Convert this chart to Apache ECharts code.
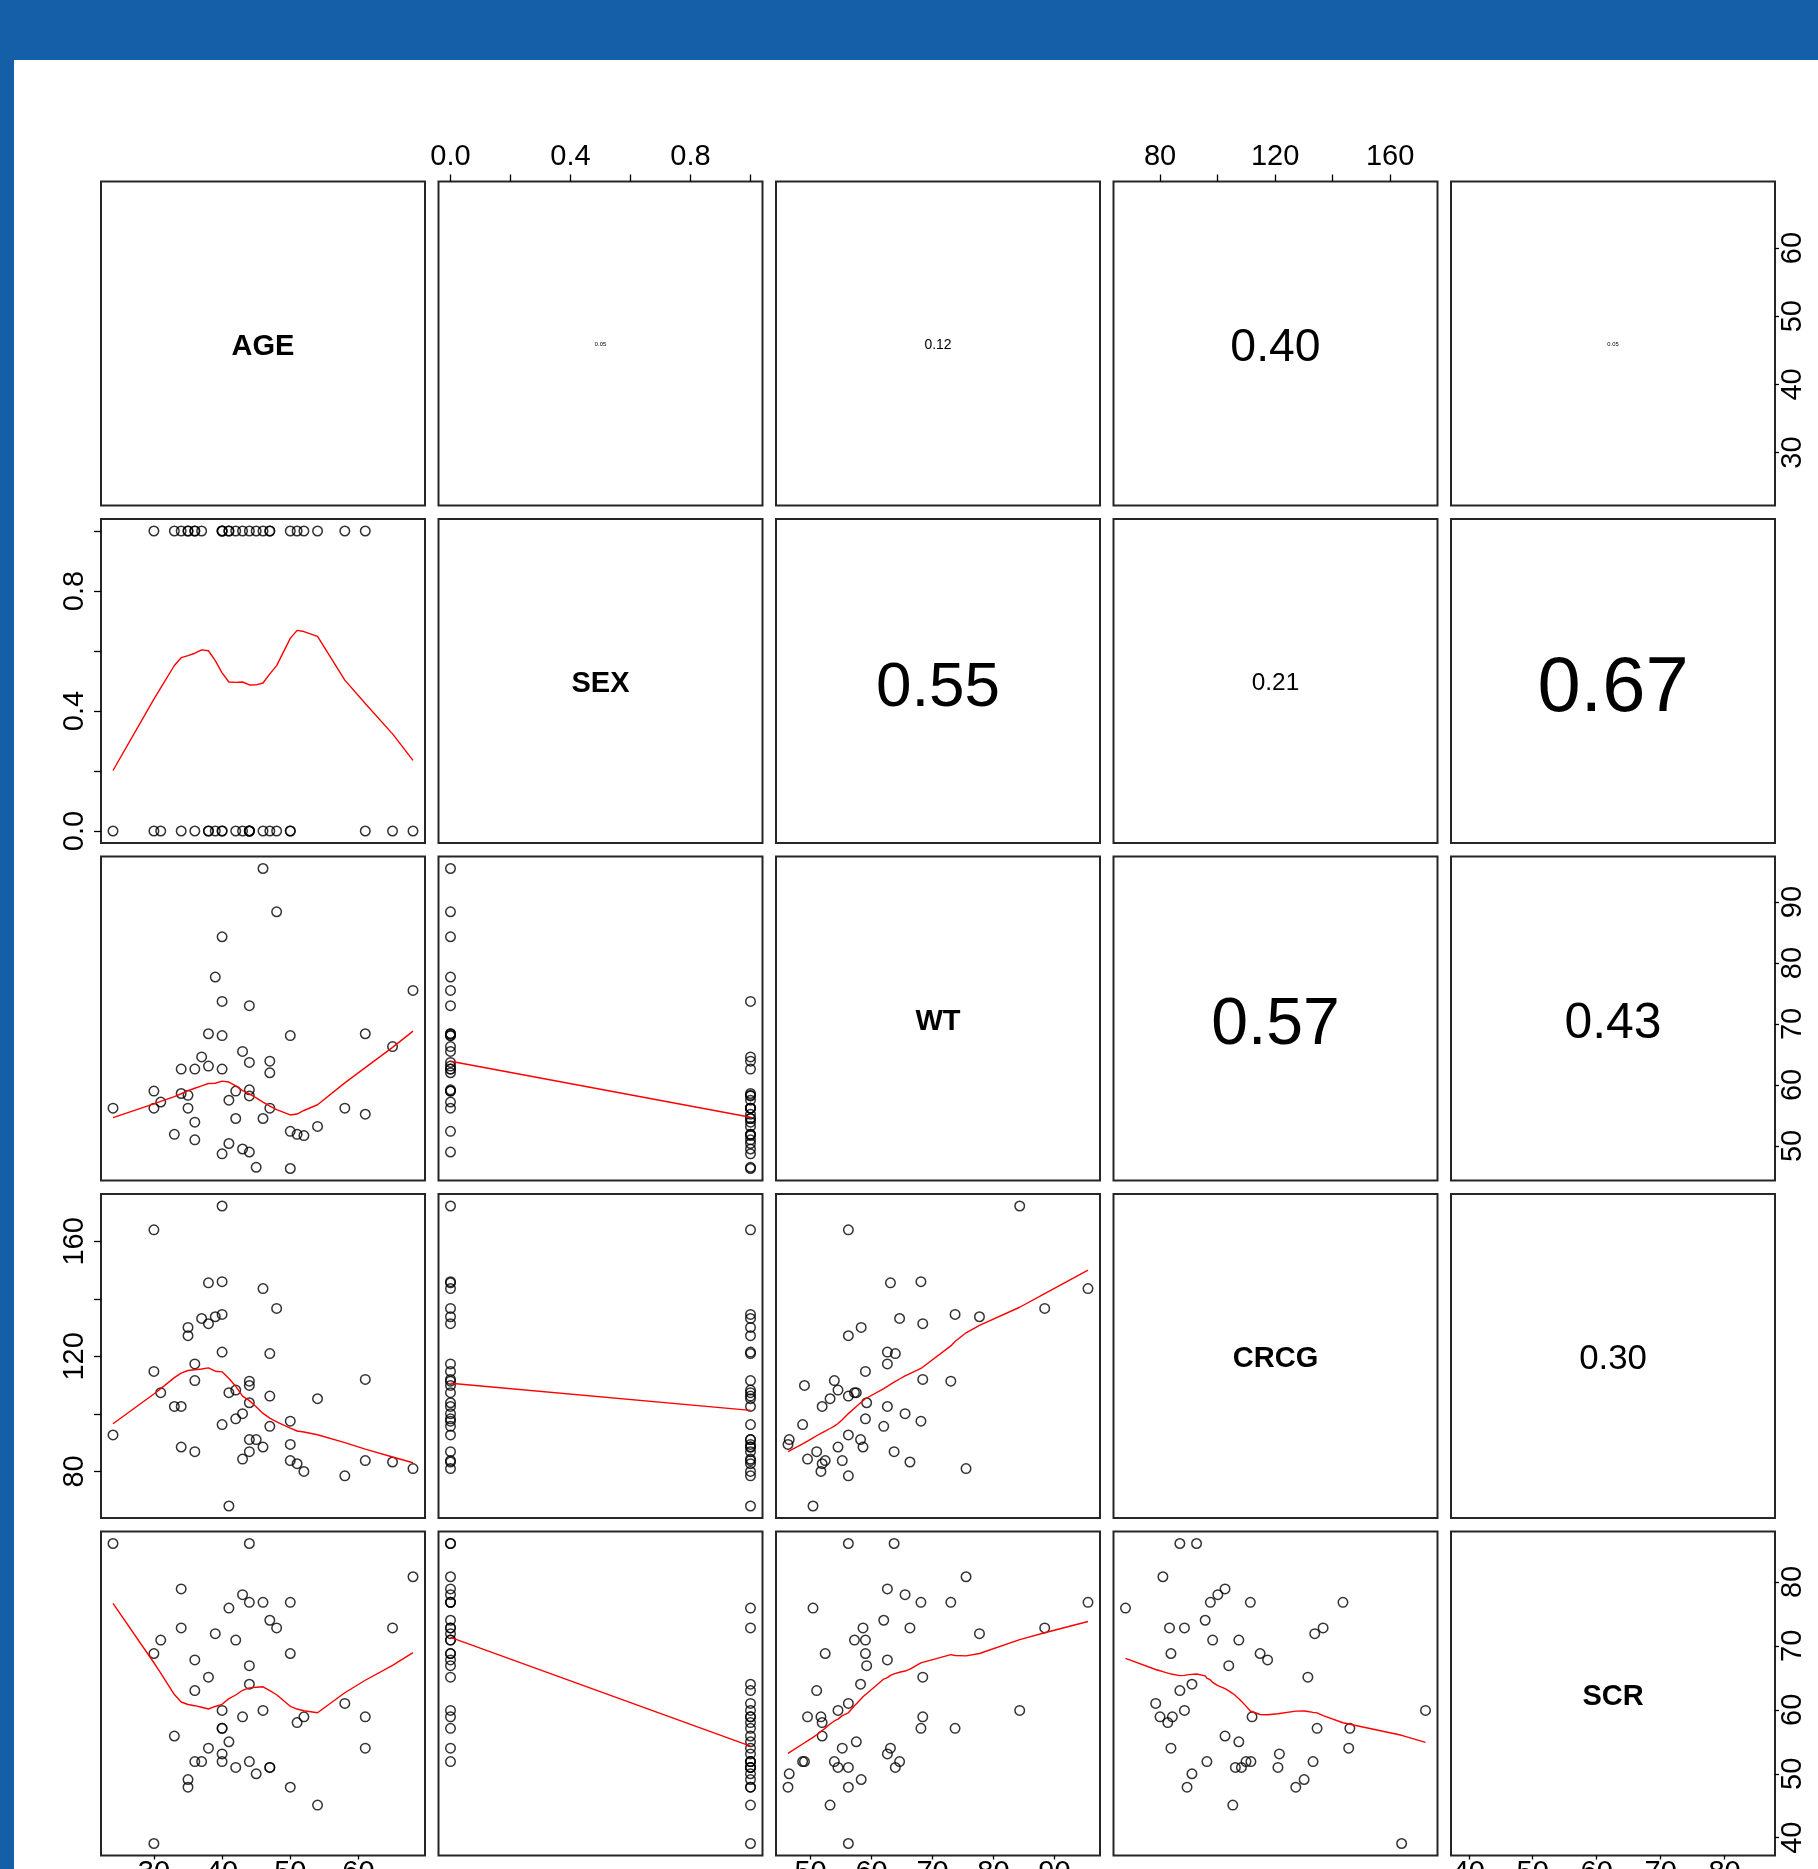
<!DOCTYPE html>
<html>
<head>
<meta charset="utf-8">
<script src="https://cdn.jsdelivr.net/npm/echarts@6.0.0/dist/echarts.min.js"></script>
<style>
html, body { margin: 0; padding: 0; background: #ffffff; overflow: hidden; }
#chart { width: 1818px; height: 1869px; }
</style>
</head>
<body>
<div id="chart"></div>
<script>
// ---------------- data ----------------
const VAR_NAMES = ['AGE', 'SEX', 'WT', 'CRCG', 'SCR'];

const AGE = [24,30,30,31,33,34,34,35,35,36,36,36,37,38,38,39,40,40,40,40,40,41,41,42,42,43,43,44,44,44,44,44,45,46,46,47,47,47,48,50,50,50,51,52,54,58,61,61,65,68];
const SEX = [0,1,0,0,1,0,1,1,1,0,1,1,1,0,0,0,0,0,1,1,1,1,1,1,0,0,1,0,0,0,1,0,1,0,1,1,0,1,0,0,0,1,1,1,1,1,0,1,0,0];
const WT = [56.2,56.2,59.0,57.2,51.9,62.6,58.6,58.3,56.2,62.6,51.0,53.9,64.6,63.1,68.4,77.7,84.3,68.1,73.7,62.6,48.7,57.5,50.4,54.5,59.0,65.5,49.5,63.7,73.0,59.2,58.2,49.0,46.5,95.5,54.5,63.9,62.0,56.2,88.4,68.1,52.4,46.3,51.9,51.7,53.2,56.2,68.4,55.2,66.3,75.5];
const CRCG = [92.7,164.0,114.8,107.4,102.6,102.6,88.5,130.1,127.2,117.4,86.9,111.6,133.2,145.6,131.4,133.8,172.3,146.0,134.6,121.5,96.3,107.4,68.0,108.3,98.3,100.1,84.3,86.9,111.4,103.9,91.1,109.9,91.1,143.6,88.5,121.0,95.7,106.2,136.7,97.5,83.8,89.4,82.7,80.0,105.3,78.5,112.0,83.8,83.3,81.0];
const SCR = [86.0,39.1,68.8,70.9,55.9,78.9,72.8,49.1,47.9,67.8,63.0,51.9,51.9,54.0,65.1,71.9,59.9,57.1,57.1,53.1,51.9,55.0,75.9,51.0,70.9,78.0,58.9,86.0,76.8,66.9,64.0,51.9,50.0,76.8,59.9,51.0,74.0,51.0,72.8,76.8,68.8,47.9,58.0,58.9,45.1,61.0,58.9,54.0,72.8,80.8];

// tick marks and tick labels
const AGE_TICKS = [30, 40, 50, 60];
const AGE_LABELS = [30, 40, 50, 60];
const SEX_TICKS = [0, 0.2, 0.4, 0.6, 0.8, 1.0];
const SEX_LABELS = [0, 0.4, 0.8];
const WT_TICKS = [50, 60, 70, 80, 90];
const WT_LABELS = [50, 60, 70, 80, 90];
const CRCG_TICKS = [80, 100, 120, 140, 160];
const CRCG_LABELS = [80, 120, 160];
const SCR_TICKS = [40, 50, 60, 70, 80];
const SCR_LABELS = [40, 50, 60, 70, 80];

// correlation texts of the upper panels (row, column, text)
const COR_ROW = [0, 0, 0, 0, 1, 1, 1, 2, 2, 3];
const COR_COL = [1, 2, 3, 4, 2, 3, 4, 3, 4, 4];
const COR_TEXT = ['0.05', '0.12', '0.40', '0.05', '0.55', '0.21', '0.67', '0.57', '0.43', '0.30'];

// ---------------- layout / style ----------------
const VALUES = [AGE, SEX, WT, CRCG, SCR];
const TICKS = [AGE_TICKS, SEX_TICKS, WT_TICKS, CRCG_TICKS, SCR_TICKS];
const LABELS = [AGE_LABELS, SEX_LABELS, WT_LABELS, CRCG_LABELS, SCR_LABELS];
const DIGITS = [0, 1, 0, 0, 0];
const FONT = '"Liberation Sans", Arial, Helvetica, sans-serif';
const P0X = 101, P0Y = 181.5, STEP = 337.5, SIZE = 324;
const COR_K = 116;
const BLUE = '#155fa8';

function extent(v) {
  let lo = Math.min(...v), hi = Math.max(...v);
  const d = 0.04 * (hi - lo);
  return [lo - d, hi + d];
}

// R's lowess (clowess), f = 2/3, iter = 3
function lowess(xIn, yIn, f, nsteps) {
  const n = xIn.length;
  const idx = xIn.map((_, i) => i).sort((a, b) => (xIn[a] - xIn[b]) || (a - b));
  const x = idx.map(i => xIn[i]), y = idx.map(i => yIn[i]);
  const ys = new Array(n).fill(0), rw = new Array(n).fill(1), res = new Array(n).fill(0);
  const range = x[n - 1] - x[0];
  const delta = 0.01 * range;
  const ns = Math.max(2, Math.min(n, Math.floor(f * n + 1e-7)));
  function lowest(xs, nleft, nright, userw) {
    const h = Math.max(xs - x[nleft], x[nright] - xs);
    const h9 = 0.999 * h, h1 = 0.001 * h;
    let a = 0, j = nleft;
    while (j < n) {
      res[j] = 0;
      const r = Math.abs(x[j] - xs);
      if (r <= h9) {
        if (r <= h1) res[j] = 1; else res[j] = Math.pow(1 - Math.pow(r / h, 3), 3);
        if (userw) res[j] *= rw[j];
        a += res[j];
      } else if (x[j] > xs) break;
      j++;
    }
    const nrt = j - 1;
    if (a <= 0) return null;
    for (j = nleft; j <= nrt; j++) res[j] /= a;
    if (h > 0) {
      a = 0;
      for (j = nleft; j <= nrt; j++) a += res[j] * x[j];
      let b = xs - a, c = 0;
      for (j = nleft; j <= nrt; j++) c += res[j] * (x[j] - a) * (x[j] - a);
      if (Math.sqrt(c) > 0.001 * range) {
        b /= c;
        for (j = nleft; j <= nrt; j++) res[j] *= (b * (x[j] - a) + 1);
      }
    }
    let s = 0;
    for (j = nleft; j <= nrt; j++) s += res[j] * y[j];
    return s;
  }
  for (let it = 1; it <= nsteps + 1; it++) {
    let nleft = 0, nright = ns - 1, last = -1, i = 0;
    do {
      if (nright < n - 1) {
        const d1 = x[i] - x[nleft], d2 = x[nright + 1] - x[i];
        if (d1 > d2) { nleft++; nright++; continue; }
      }
      const v = lowest(x[i], nleft, nright, it > 1);
      ys[i] = (v === null) ? y[i] : v;
      if (last < i - 1) {
        const denom = x[i] - x[last];
        for (let j = last + 1; j < i; j++) {
          const alpha = (x[j] - x[last]) / denom;
          ys[j] = alpha * ys[i] + (1 - alpha) * ys[last];
        }
      }
      last = i;
      const cut = x[last] + delta;
      for (i = last + 1; i < n; i++) {
        if (x[i] > cut) break;
        if (x[i] === x[last]) { ys[i] = ys[last]; last = i; }
      }
      i = Math.max(last + 1, i - 1);
    } while (last < n - 1);
    for (let k = 0; k < n; k++) res[k] = y[k] - ys[k];
    let sc = 0;
    for (let k = 0; k < n; k++) sc += Math.abs(res[k]);
    sc /= n;
    if (it > nsteps) break;
    for (let k = 0; k < n; k++) rw[k] = Math.abs(res[k]);
    const sorted = rw.slice().sort((a, b) => a - b);
    const m1 = Math.floor(n / 2);
    let cmad;
    if (n % 2 === 0) { const m2 = n - m1 - 1; cmad = 3 * (sorted[m1] + sorted[m2]); }
    else cmad = 6 * sorted[m1];
    if (cmad < 1e-7 * sc) break;
    const c9 = 0.999 * cmad, c1 = 0.001 * cmad;
    for (let k = 0; k < n; k++) {
      const r = Math.abs(res[k]);
      if (r <= c1) rw[k] = 1;
      else if (r <= c9) rw[k] = Math.pow(1 - Math.pow(r / cmad, 2), 2);
      else rw[k] = 0;
    }
  }
  return x.map((xv, k) => [xv, ys[k]]);
}

function axisCfg(kind, v, gi, pos) {
  const [mn, mx] = extent(VALUES[v]);
  const show = pos !== null;
  const near = (pos === 'top' || pos === 'left');
  let margin = 3;
  if (pos === 'top') margin = 10;
  if (pos === 'left') margin = 12;
  return {
    type: 'value',
    gridIndex: gi,
    min: mn,
    max: mx,
    position: pos || (kind === 'x' ? 'bottom' : 'left'),
    axisLine: { show: false, onZero: false },
    splitLine: { show: false },
    axisPointer: { show: false },
    axisTick: {
      show: show,
      customValues: TICKS[v],
      length: near ? 7 : 4,
      lineStyle: { color: '#000', width: 1.3 }
    },
    axisLabel: {
      show: show,
      customValues: LABELS[v],
      margin: margin,
      rotate: kind === 'y' ? 90 : 0,
      color: '#000',
      fontSize: 29,
      fontFamily: FONT,
      hideOverlap: false,
      formatter: (val) => Number(val).toFixed(DIGITS[v])
    }
  };
}

const grids = [], xAxes = [], yAxes = [], series = [], graphics = [];

graphics.push({ type: 'rect', shape: { x: 0, y: 0, width: 1818, height: 60 }, style: { fill: BLUE }, z: 10 });
graphics.push({ type: 'rect', shape: { x: 0, y: 0, width: 14, height: 1869 }, style: { fill: BLUE }, z: 10 });

for (let r = 0; r < 5; r++) {
  for (let c = 0; c < 5; c++) {
    const gi = r * 5 + c;
    const left = P0X + STEP * c, top = P0Y + STEP * r;
    grids.push({
      left: left, top: top, width: SIZE, height: SIZE,
      containLabel: false, outerBoundsMode: 'none',
      show: true, borderColor: '#262626', borderWidth: 2, backgroundColor: 'rgba(0,0,0,0)'
    });
    let xpos = null, ypos = null;
    if (r === 0 && c % 2 === 1) xpos = 'top';
    if (r === 4 && c % 2 === 0) xpos = 'bottom';
    if (c === 0 && r % 2 === 1) ypos = 'left';
    if (c === 4 && r % 2 === 0) ypos = 'right';
    xAxes.push(axisCfg('x', c, gi, xpos));
    yAxes.push(axisCfg('y', r, gi, ypos));

    const cx = left + SIZE / 2, cy = top + SIZE / 2;
    if (r === c) {
      graphics.push({
        type: 'text', x: cx, y: cy + 0.11 * 29, z: 20,
        style: { text: VAR_NAMES[r], font: 'bold 29px ' + FONT, fill: '#000',
                 textAlign: 'center', textVerticalAlign: 'middle', align: 'center', verticalAlign: 'middle' }
      });
    } else if (r > c) {
      const xs = VALUES[c], ysv = VALUES[r];
      series.push({
        type: 'scatter', xAxisIndex: gi, yAxisIndex: gi,
        data: xs.map((xv, i) => [xv, ysv[i]]),
        symbol: 'circle', symbolSize: 9.5,
        itemStyle: { color: 'rgba(0,0,0,0)', borderColor: '#000', borderWidth: 1.5 },
        emphasis: { disabled: true },
        silent: true, animation: false, z: 3
      });
      series.push({
        type: 'line', xAxisIndex: gi, yAxisIndex: gi,
        data: lowess(xs, ysv, 2 / 3, 3),
        showSymbol: false, symbol: 'none', smooth: false,
        lineStyle: { color: '#ff0000', width: 1.4 },
        emphasis: { disabled: true },
        silent: true, animation: false, z: 4
      });
    }
  }
}

for (let k = 0; k < COR_TEXT.length; k++) {
  const r = COR_ROW[k], c = COR_COL[k];
  const size = Math.max(1, COR_K * Math.abs(parseFloat(COR_TEXT[k])));
  const cx = P0X + STEP * c + SIZE / 2, cy = P0Y + STEP * r + SIZE / 2 + 0.11 * size;
  graphics.push({
    type: 'text', x: cx, y: cy, z: 20,
    style: { text: COR_TEXT[k], font: size.toFixed(1) + 'px ' + FONT, fill: '#000',
             textAlign: 'center', textVerticalAlign: 'middle', align: 'center', verticalAlign: 'middle' }
  });
}

const chart = echarts.init(document.getElementById('chart'), null, { renderer: 'canvas', width: 1818, height: 1869 });
chart.setOption({
  backgroundColor: '#ffffff',
  animation: false,
  grid: grids,
  xAxis: xAxes,
  yAxis: yAxes,
  series: series,
  graphic: { elements: graphics }
});
</script>
</body>
</html>
